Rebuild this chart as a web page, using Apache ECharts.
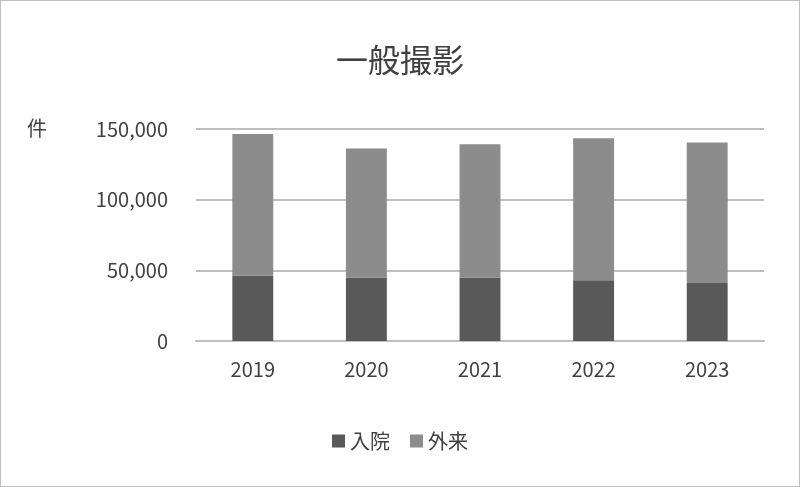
<!DOCTYPE html>
<html>
<head>
<meta charset="utf-8">
<script src="https://cdn.jsdelivr.net/npm/echarts@6/dist/echarts.min.js"></script>
<style>
  body { margin: 0; background: #fff; }
  #chart { width: 798px; height: 485px; border: 1px solid #bfbfbf; }
</style>
</head>
<body>
<div id="chart"></div>
<script>
// データ
var years = ['2019', '2020', '2021', '2022', '2023'];
var inpatient = [46200, 45000, 45000, 42900, 41000];
var outpatient = [100200, 91200, 94200, 100500, 99400];

var myChart = echarts.init(document.getElementById('chart'));
var font = '"Noto Sans CJK JP", sans-serif';

var option = {
  textStyle: { fontFamily: font },
  title: {
    text: '一般撮影',
    left: 'center',
    top: 38,
    textStyle: { fontSize: 32, fontWeight: 'normal', color: '#404040', fontFamily: font }
  },
  graphic: [{
    type: 'text', left: 26, top: 117,
    style: { text: '件', fontSize: 20, fill: '#404040', fontFamily: font }
  }],
  legend: {
    bottom: 30,
    itemWidth: 13,
    itemHeight: 13,
    itemGap: 20,
    icon: 'rect',
    textStyle: { fontSize: 20, color: '#404040', fontFamily: font },
    data: ['入院', '外来']
  },
  grid: { left: 195, right: 35, top: 128, bottom: 145, containLabel: false },
  xAxis: {
    type: 'category',
    data: years,
    axisTick: { show: false },
    axisLine: { lineStyle: { color: '#bfbfbf', width: 2 } },
    axisLabel: { fontSize: 20, color: '#404040', margin: 18 }
  },
  yAxis: {
    type: 'value',
    min: 0, max: 150000, interval: 50000,
    axisLabel: { fontSize: 20, color: '#404040', margin: 28 },
    splitLine: { lineStyle: { color: '#bfbfbf', width: 2 } }
  },
  series: [
    { name: '入院', type: 'bar', stack: 'a', data: inpatient, barWidth: '36%',
      itemStyle: { color: '#595959' } },
    { name: '外来', type: 'bar', stack: 'a', data: outpatient, barWidth: '36%',
      itemStyle: { color: '#8c8c8c' } }
  ]
};

myChart.setOption(option);
</script>
</body>
</html>
